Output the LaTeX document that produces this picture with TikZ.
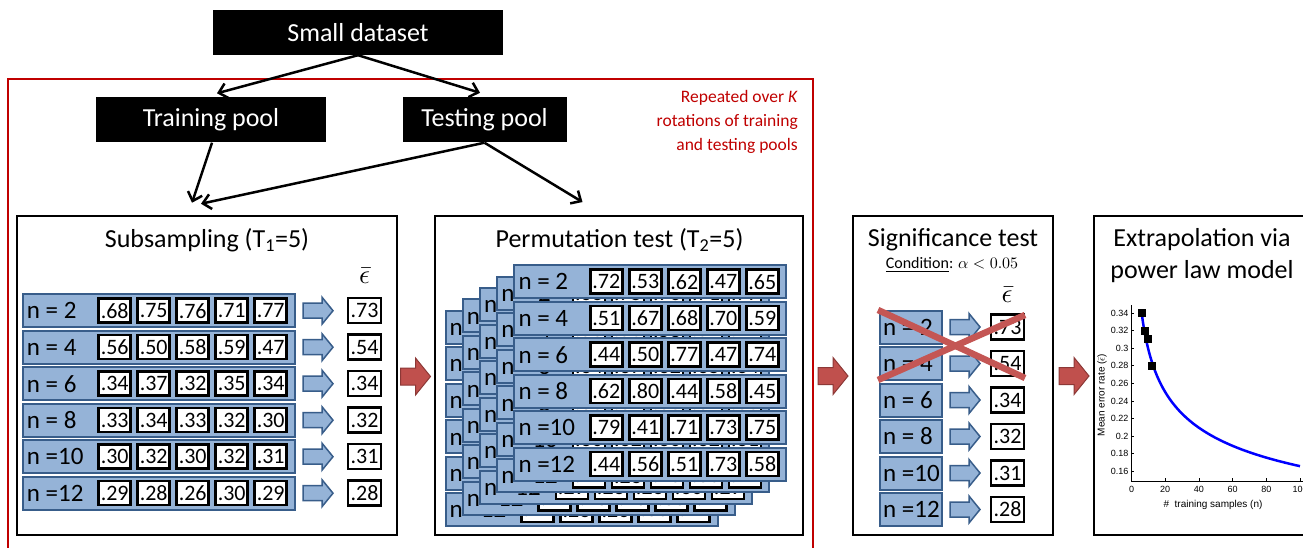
\documentclass[tikz,border=0pt]{standalone}
\usepackage{fontspec}
\usepackage{graphicx}
\setmainfont{Carlito}
\newfontfamily\plotfont{Liberation Sans}
\usetikzlibrary{arrows.meta}
\definecolor{bfill}{RGB}{149,179,215}
\definecolor{bdark}{RGB}{56,93,138}
\definecolor{rfill}{RGB}{192,80,77}
\definecolor{rdark}{RGB}{140,56,54}
\definecolor{frame}{RGB}{192,0,0}
\definecolor{xred}{RGB}{196,86,84}
\newcommand{\datarow}[9]{%
 \node[rowbox,anchor=west] (#1) at (#2,#3) {};
 \node[ntext] (#1-n) at ([xshift=5pt]#1.west) {#4};
 \node[valbox] (#1-a) at ([xshift=93pt]#1.west) {#5};
 \node[valbox] (#1-b) at ([xshift=132pt]#1.west) {#6};
 \node[valbox] (#1-c) at ([xshift=171pt]#1.west) {#7};
 \node[valbox] (#1-d) at ([xshift=210pt]#1.west) {#8};
 \node[valbox] (#1-e) at ([xshift=249pt]#1.west) {#9};
}
\newcommand{\ebarsym}{\scalebox{2.7}{$\bar{\epsilon}$}}
\tikzset{
 blk/.style={fill=black, text=white, font=\fontsize{26}{30}\selectfont, inner sep=0, minimum height=45},
 panel/.style={draw=black, fill=white, line width=2.5pt, inner sep=0, minimum height=319},
 ttl/.style={font=\fontsize{26}{30}\selectfont, inner sep=0},
 rowbox/.style={draw=bdark, fill=bfill, line width=2pt, minimum width=272, minimum height=33, inner sep=0},
 ntext/.style={anchor=west, font=\fontsize{25}{28}\selectfont, inner sep=0},
 valbox/.style={draw=black, fill=white, line width=2.5pt, minimum width=32, minimum height=24, inner sep=0, font=\fontsize{22}{24}\selectfont},
 resbox/.style={valbox, minimum width=33, minimum height=25},
 ebar/.style={font=\fontsize{10}{12}\selectfont, inner sep=0},
 arr/.style={line width=2.5pt, -{Straight Barb[length=8pt,width=15pt]}},
 barrow/.pic={\draw[bdark, fill=bfill, line width=1.5pt] (-15,-7.5)--(4,-7.5)--(4,-13.5)--(15,0)--(4,13.5)--(4,7.5)--(-15,7.5)--cycle;},
 rarrow/.pic={\draw[rdark, fill=rfill, line width=1pt] (-15,-8.5)--(0,-8.5)--(0,-18.5)--(15,0)--(0,18.5)--(0,8.5)--(-15,8.5)--cycle;},
 tick/.style={font=\plotfont\fontsize{9}{10}\selectfont, inner sep=0},
 sq/.style={fill=black, minimum size=8, inner sep=0}
}
\begin{document}
\begin{tikzpicture}[x=1pt, y=-1pt]
\useasboundingbox (0,0) rectangle (1303,548);
\fill[white] (0,0) rectangle (1303,548);
\clip (0,0) rectangle (1303,548);
% outer red frame
\draw[frame, line width=2.2pt] (8,79) rectangle (813,570);
\node[font=\fontsize{17.5}{24}\selectfont, text=frame, align=right, anchor=east, inner sep=0] (rep) at (798,122.3) {Repeated over \textit{K}\\rotations of training\\and testing pools};
% top boxes
\node[blk, minimum width=290] (sd) at (358,32.5) {Small dataset};
\node[blk, minimum width=230] (tr) at (211,120) {Training pool};
\node[blk, minimum width=164] (te) at (484.5,120) {Testing pool};
% panels
\node[panel, minimum width=380] (ss) at (207,375.5) {};
\node[panel, minimum width=368] (pt) at (619,375.5) {};
\node[panel, minimum width=200] (sg) at (953,375.5) {};
\node[panel, minimum width=240] (ex) at (1214,375.5) {};
% arrows
\draw[arr] (sd.south) -- ([xshift=6pt,yshift=4pt]tr.north);
\draw[arr] (sd.south) -- ([xshift=-4.5pt,yshift=4.5pt]te.north);
\draw[arr] ([xshift=1pt]tr.south) -- ([xshift=-15pt,yshift=12pt]ss.north);
\draw[arr] (te.south) -- ([xshift=-6pt,yshift=11pt]ss.north);
\draw[arr] (te.south) -- ([xshift=-36.5pt,yshift=12.7pt]pt.north);
% subsampling
\node[ttl] (sst) at (207,240) {Subsampling (T\textsubscript{1}=5)};
\node[ebar] (sse) at (364.5,276) {\ebarsym};
\foreach \lab/\va/\vb/\vc/\vd/\ve/\res [count=\i from 0] in {n = 2/.68/.75/.76/.71/.77/.73, n = 4/.56/.50/.58/.59/.47/.54, n = 6/.34/.37/.32/.35/.34/.34, n = 8/.33/.34/.33/.32/.30/.32, n =10/.30/.32/.30/.32/.31/.31, n =12/.29/.28/.26/.30/.29/.28}{
 \pgfmathsetmacro\yy{310.7+36.5*\i}
 \datarow{ss\i}{21.7}{\yy}{\lab}{\va}{\vb}{\vc}{\vd}{\ve}
 \pic at (318,\yy) {barrow};
 \node[resbox] (ssr\i) at (364.5,\yy) {\res};
}
\pic at (415.5,376.5) {rarrow};
% permutation test
\node[ttl] (ptt) at (619.5,240) {Permutation test (T\textsubscript{2}=5)};
\foreach \L in {0,1,2,3}{
 \pgfmathsetmacro\lx{513.3-17.2*(4-\L)}
 \pgfmathsetmacro\ly{11.4*(4-\L)}
 \foreach \lab/\va/\vb/\vc/\vd/\ve [count=\i from 0] in {n = 2/.68/.75/.76/.71/.77, n = 4/.56/.50/.58/.59/.47, n = 6/.34/.37/.32/.35/.34, n = 8/.33/.34/.33/.32/.30, n =10/.30/.32/.30/.32/.31, n =12/.29/.28/.26/.30/.29}{
  \pgfmathsetmacro\yy{281.7+\ly+36.5*\i}
  \datarow{p\L-\i}{\lx}{\yy}{\lab}{\va}{\vb}{\vc}{\vd}{\ve}
 }
}
\foreach \lab/\va/\vb/\vc/\vd/\ve [count=\i from 0] in {n = 2/.72/.53/.62/.47/.65, n = 4/.51/.67/.68/.70/.59, n = 6/.44/.50/.77/.47/.74, n = 8/.62/.80/.44/.58/.45, n =10/.79/.41/.71/.73/.75, n =12/.44/.56/.51/.73/.58}{
 \pgfmathsetmacro\yy{281.7+36.5*\i}
 \datarow{pf-\i}{513.3}{\yy}{\lab}{\va}{\vb}{\vc}{\vd}{\ve}
}
\pic at (833,376) {rarrow};
% significance test
\node[ttl] (sgt) at (953,240) {Significance test};
\node[font=\fontsize{10}{12}\selectfont, inner sep=0] (cond) at (952,265) {\scalebox{1.6}{\underline{Condition}: $\alpha < 0.05$}};
\node[ebar] (sge) at (1007,295) {\ebarsym};
\foreach \lab/\res [count=\i from 0] in {n = 2/.73, n = 4/.54, n = 6/.34, n = 8/.32, n =10/.31, n =12/.28}{
 \pgfmathsetmacro\yy{327+36.5*\i}
 \node[rowbox, minimum width=62] (sg\i) at (911,\yy) {};
 \node[ntext] (sg\i-n) at ([xshift=4pt]sg\i.west) {\lab};
 \pic at (965,\yy) {barrow};
 \node[resbox] (sgr\i) at (1007.5,\yy) {\res};
}
\coordinate (x1) at (878,310);
\coordinate (x2) at (1025,378);
\coordinate (x3) at (878,380);
\coordinate (x4) at (1025,315);
\draw[xred, line width=6.5pt] (x1) -- (x2);
\draw[xred, line width=6.5pt] (x3) -- (x4);
\pic at (1074,376) {rarrow};
% extrapolation
\node[ttl] (ext1) at (1202,240) {Extrapolation via};
\node[ttl] (ext2) at (1202,271.5) {power law model};
\draw[line width=0.8pt] (1131,305) -- (1131,481) -- (1310,481);
\foreach \v/\t [count=\k] in {0.34/0.34,0.32/0.32,0.30/0.3,0.28/0.28,0.26/0.26,0.24/0.24,0.22/0.22,0.20/0.2,0.18/0.18,0.16/0.16}{
 \pgfmathsetmacro\ty{313+(0.34-\v)*880}
 \draw[line width=0.7pt] (1131,\ty) -- (1134,\ty);
 \node[tick, anchor=east] (yt\k) at (1128.5,\ty) {\t};
}
\foreach \v [count=\k] in {0,20,40,60,80,100}{
 \pgfmathsetmacro\tx{1131.5+1.685*\v}
 \draw[line width=0.7pt] (\tx,481) -- (\tx,478);
 \node[tick] (xt\k) at (\tx,489.5) {\v};
}
\node[rotate=90, font=\plotfont\fontsize{10}{12}\selectfont, inner sep=0] (ylab) at (1102,395) {Mean error rate ($\bar{\epsilon}$)};
\node[font=\plotfont\fontsize{10}{12}\selectfont, inner sep=0] (xlab) at (1213,505) {\#\ \ training samples (n)};
\draw[blue, line width=2.5pt] plot[domain=6:100, samples=90, smooth] ({1131.5+1.685*\x},{313+(0.34-0.34*exp(-0.255*ln(\x/6)))*880});
\node[sq] (m1) at (1141.6,313) {};
\node[sq] (m2) at (1145,330.6) {};
\node[sq] (m3) at (1148.4,339.4) {};
\node[sq] (m4) at (1151.7,365.8) {};
\end{tikzpicture}
\end{document}
